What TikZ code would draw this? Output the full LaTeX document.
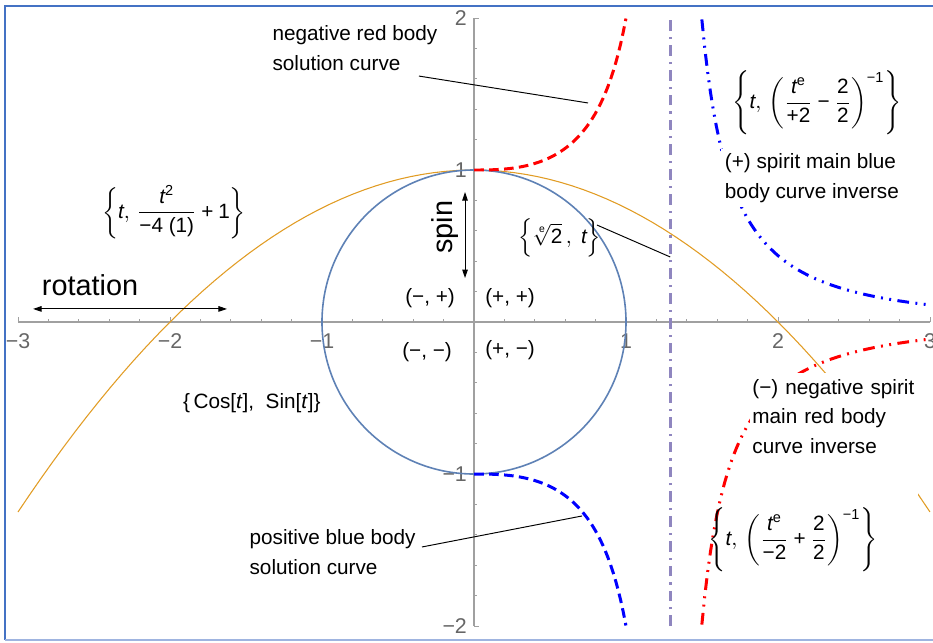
\documentclass[tikz,border=0pt]{standalone}
\usepackage{amsmath}
\usepackage{fontspec}
\setmainfont{Liberation Sans}
\usetikzlibrary{arrows.meta,calc}
\definecolor{Bc}{HTML}{5E81B5}
\definecolor{Oc}{HTML}{E19C24}
\definecolor{Vc}{HTML}{8F86BF}
\definecolor{Fc}{HTML}{4472C4}
\definecolor{Fl}{HTML}{9FB4E0}
\definecolor{Gc}{HTML}{A0A0A0}
\definecolor{Tc}{HTML}{666666}
\tikzset{
  ax/.style={Gc, line width=0.5pt},
  tk/.style={Gc, line width=0.4pt},
  ticklab/.style={Tc, font=\fontsize{10}{11}\selectfont, inner sep=1pt},
  lbl/.style={font=\fontsize{9.7}{14}\selectfont, align=left, inner sep=1pt},
  big/.style={font=\fontsize{13.5}{16}\selectfont, inner sep=1pt},
  call/.style={line width=0.45pt},
  dbl/.style={{Triangle[length=4pt,width=2.6pt]}-{Triangle[length=4pt,width=2.6pt]}, line width=0.45pt},
  soln/.style={line width=1.4pt, dash pattern=on 4.5pt off 2.5pt},
  inv/.style={line width=1.4pt, dash pattern=on 5.5pt off 3pt on 0.9pt off 3pt on 0.9pt off 3pt},
  asym/.style={Vc, line width=1.5pt, dash pattern=on 5pt off 2.8pt on 1pt off 2.8pt},
}
\newcommand{\itx}[1]{\text{\itshape #1}}
\newcommand{\rx}[1]{\text{#1}}

\begin{document}
\begin{tikzpicture}[x=2.5cm, y=2.5cm]
  \useasboundingbox (-3.1184,-2.1053) rectangle (3.0197,2.1184);
  % frame
  \draw[Fc, line width=1pt] (-3.086,-2.092) -- (-3.086,2.079) -- (3.0197,2.079);
  \draw[Fl, line width=0.6pt] (-3.086,-2.092) -- (3.0197,-2.092);
  % axes
  \draw[ax] (-3,0) -- (3,0);
  \draw[ax] (0,-2) -- (0,2);
  \foreach \xx in {-3,-2.8,...,3.01} \draw[tk] (\xx,0) -- (\xx,0.02);
  \foreach \xx in {-3,-2,-1,1,2,3} {
    \draw[tk] (\xx,0) -- (\xx,0.035);
    \node[ticklab] (xl\xx) at (\xx,-0.125) {\ifdim\xx pt<0pt −\fi\pgfmathparse{int(abs(\xx))}\pgfmathresult};}
  \foreach \yy in {-2,-1.8,...,2.01} \draw[tk] (0,\yy) -- (0.02,\yy);
  \foreach \yy in {-2,-1,1,2} {
    \draw[tk] (0,\yy) -- (0.035,\yy);
    \node[ticklab, anchor=east] (yl\yy) at (-0.03,\yy) {\ifdim\yy pt<0pt −\fi\pgfmathparse{int(abs(\yy))}\pgfmathresult};}
  % curves
  \draw[Oc, line width=0.5pt] plot[domain=-3:3, samples=80] (\x, {1-\x*\x/4});
  \draw[Bc, line width=0.75pt] (0,0) circle[radius=1];
  \draw[asym] (1.2905,-2) -- (1.2905,2);
  \draw[red, soln] plot[domain=0.001:1, samples=60] (\x, {1/(1-exp(2.71828*ln(\x))/2)});
  \draw[blue, soln] plot[domain=0.001:1, samples=60] (\x, {1/(exp(2.71828*ln(\x))/2-1)});
  \draw[blue, inv] plot[domain=1.499:3, samples=80] (\x, {1/(exp(2.71828*ln(\x))/2-1)});
  \draw[red, inv] plot[domain=1.499:3, samples=80] (\x, {1/(1-exp(2.71828*ln(\x))/2)});
  % labels
  \node[lbl, anchor=west] (negred) at (-1.342,1.803) {negative red body\\solution curve};
  \coordinate (negA) at (-0.362,1.618);
  \coordinate (negB) at (0.750,1.441);
  \draw[call] (negA) -- (negB);
  \node[lbl, anchor=west] (posblue) at (-1.493,-1.513) {positive blue body\\solution curve};
  \coordinate (posA) at (-0.342,-1.480);
  \coordinate (posB) at (0.711,-1.276);
  \draw[call] (posA) -- (posB);
  \node[lbl] (parab) at (-1.974,0.724)
    {$\left\{\itx{t},\, \dfrac{\itx{t}^{\rx{2}}}{\rx{−4 (1)}}\mathbin{\rx{+}}\rx{1}\right\}$};
  \node[big] (rot) at (-2.526,0.243) {rotation};
  \coordinate (rotL) at (-2.901,0.086);
  \coordinate (rotR) at (-1.625,0.086);
  \draw[dbl] (rotL) -- (rotR);
  \node[big, rotate=90] (spin) at (-0.191,0.625) {spin};
  \coordinate (spinT) at (-0.059,0.855);
  \coordinate (spinB) at (-0.059,0.289);
  \draw[dbl] (spinT) -- (spinB);
  \node[lbl] (root) at (0.566,0.553) {$\left\{\sqrt[\rx{e}]{\rx{2}}\,,\ \itx{t}\right\}$};
  \coordinate (rootA) at (0.809,0.638);
  \coordinate (rootB) at (1.2905,0.428);
  \draw[call] (rootA) -- (rootB);
  \node[lbl] (qpp) at (0.237,0.158) {(+, +)};
  \node[lbl] (qmp) at (-0.289,0.158) {(−, +)};
  \node[lbl] (qmm) at (-0.309,-0.197) {(−, −)};
  \node[lbl] (qpm) at (0.237,-0.184) {(+, −)};
  \node[lbl] (circ) at (-1.461,-0.533) {\{\,Cos[\textit{t}],\ \ Sin[\textit{t}]\}};
  \node[lbl] (blueinv) at (2.257,1.441)
    {$\left\{\itx{t},\, \left(\dfrac{\itx{t}^{\rx{e}}}{\rx{+2}}\mathbin{\rx{−}}\dfrac{\rx{2}}{\rx{2}}\right)^{\rx{−1}}\right\}$};
  \node[lbl, anchor=west, fill=white, inner sep=2pt] (bluetxt) at (1.620,0.947) {(+) spirit main blue\\body curve inverse};
  \node[lbl, anchor=north west, fill=white, inner xsep=1pt, inner ysep=3pt, text width=2.68cm] (redtxt) at (1.815,-0.33) {(−) negative spirit\\main red body\\curve inverse\\\strut};
  \node[lbl] (redinv) at (2.099,-1.434)
    {$\left\{\itx{t},\, \left(\dfrac{\itx{t}^{\rx{e}}}{\rx{−2}}\mathbin{\rx{+}}\dfrac{\rx{2}}{\rx{2}}\right)^{\rx{−1}}\right\}$};
\end{tikzpicture}
\end{document}
